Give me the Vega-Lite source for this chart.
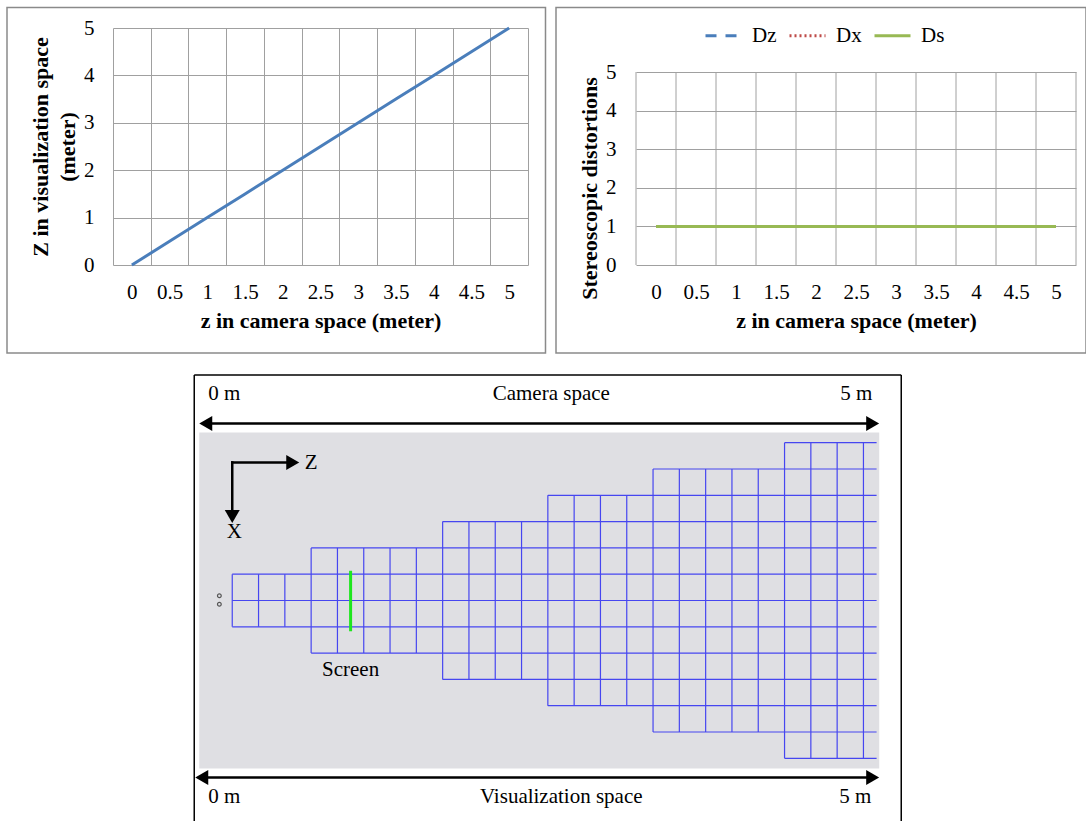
{
  "$schema": "https://vega.github.io/schema/vega-lite/v6.json",
  "background": "white",
  "padding": {"left": 6, "top": 6, "right": 0, "bottom": 0},
  "config": {
    "font": "Liberation Serif",
    "view": {"stroke": null},
    "axis": {
      "labelFont": "Liberation Serif", "labelFontSize": 21, "labelColor": "#000000",
      "titleFont": "Liberation Serif", "titleFontSize": 22, "titleFontWeight": "bold", "titleColor": "#000000",
      "ticks": false, "domain": false, "grid": true, "gridColor": "#a0a0a0", "gridWidth": 1,
      "labelOverlap": false, "labelFlush": false, "labelBound": false, "tickCount": 50
    },
    "legend": {"labelFont": "Liberation Serif", "labelFontSize": 21, "labelColor": "#000000"}
  },
  "datasets": {
    "camera_vs_vis": [
      {"z_camera": 0, "Z_vis": 0}, {"z_camera": 0.5, "Z_vis": 0.5}, {"z_camera": 1, "Z_vis": 1},
      {"z_camera": 1.5, "Z_vis": 1.5}, {"z_camera": 2, "Z_vis": 2}, {"z_camera": 2.5, "Z_vis": 2.5},
      {"z_camera": 3, "Z_vis": 3}, {"z_camera": 3.5, "Z_vis": 3.5}, {"z_camera": 4, "Z_vis": 4},
      {"z_camera": 4.5, "Z_vis": 4.5}, {"z_camera": 5, "Z_vis": 5}
    ],
    "distortions": [
      {"measure": "Dz", "z_camera": 0, "value": 1}, {"measure": "Dz", "z_camera": 0.5, "value": 1},
      {"measure": "Dz", "z_camera": 1, "value": 1}, {"measure": "Dz", "z_camera": 1.5, "value": 1},
      {"measure": "Dz", "z_camera": 2, "value": 1}, {"measure": "Dz", "z_camera": 2.5, "value": 1},
      {"measure": "Dz", "z_camera": 3, "value": 1}, {"measure": "Dz", "z_camera": 3.5, "value": 1},
      {"measure": "Dz", "z_camera": 4, "value": 1}, {"measure": "Dz", "z_camera": 4.5, "value": 1},
      {"measure": "Dz", "z_camera": 5, "value": 1},
      {"measure": "Dx", "z_camera": 0, "value": 1}, {"measure": "Dx", "z_camera": 0.5, "value": 1},
      {"measure": "Dx", "z_camera": 1, "value": 1}, {"measure": "Dx", "z_camera": 1.5, "value": 1},
      {"measure": "Dx", "z_camera": 2, "value": 1}, {"measure": "Dx", "z_camera": 2.5, "value": 1},
      {"measure": "Dx", "z_camera": 3, "value": 1}, {"measure": "Dx", "z_camera": 3.5, "value": 1},
      {"measure": "Dx", "z_camera": 4, "value": 1}, {"measure": "Dx", "z_camera": 4.5, "value": 1},
      {"measure": "Dx", "z_camera": 5, "value": 1},
      {"measure": "Ds", "z_camera": 0, "value": 1}, {"measure": "Ds", "z_camera": 0.5, "value": 1},
      {"measure": "Ds", "z_camera": 1, "value": 1}, {"measure": "Ds", "z_camera": 1.5, "value": 1},
      {"measure": "Ds", "z_camera": 2, "value": 1}, {"measure": "Ds", "z_camera": 2.5, "value": 1},
      {"measure": "Ds", "z_camera": 3, "value": 1}, {"measure": "Ds", "z_camera": 3.5, "value": 1},
      {"measure": "Ds", "z_camera": 4, "value": 1}, {"measure": "Ds", "z_camera": 4.5, "value": 1},
      {"measure": "Ds", "z_camera": 5, "value": 1}
    ],
    "region": [{"u0": -1.255, "u1": 24.6, "v0": -6.388, "v1": 6.388}],
    "grid_h": [
      {"row": -6, "from": 21, "to": 24.5}, {"row": -5, "from": 16, "to": 24.5},
      {"row": -4, "from": 12, "to": 24.5}, {"row": -3, "from": 8, "to": 24.5},
      {"row": -2, "from": 3, "to": 24.5}, {"row": -1, "from": 0, "to": 24.5},
      {"row": 0, "from": 0, "to": 24.5}, {"row": 1, "from": 0, "to": 24.5},
      {"row": 2, "from": 3, "to": 24.5}, {"row": 3, "from": 8, "to": 24.5},
      {"row": 4, "from": 12, "to": 24.5}, {"row": 5, "from": 16, "to": 24.5},
      {"row": 6, "from": 21, "to": 24.5}
    ],
    "grid_v": [
      {"col": 0, "lo": -1, "hi": 1}, {"col": 1, "lo": -1, "hi": 1}, {"col": 2, "lo": -1, "hi": 1},
      {"col": 3, "lo": -2, "hi": 2}, {"col": 4, "lo": -2, "hi": 2}, {"col": 5, "lo": -2, "hi": 2},
      {"col": 6, "lo": -2, "hi": 2}, {"col": 7, "lo": -2, "hi": 2},
      {"col": 8, "lo": -3, "hi": 3}, {"col": 9, "lo": -3, "hi": 3}, {"col": 10, "lo": -3, "hi": 3},
      {"col": 11, "lo": -3, "hi": 3},
      {"col": 12, "lo": -4, "hi": 4}, {"col": 13, "lo": -4, "hi": 4}, {"col": 14, "lo": -4, "hi": 4},
      {"col": 15, "lo": -4, "hi": 4},
      {"col": 16, "lo": -5, "hi": 5}, {"col": 17, "lo": -5, "hi": 5}, {"col": 18, "lo": -5, "hi": 5},
      {"col": 19, "lo": -5, "hi": 5}, {"col": 20, "lo": -5, "hi": 5},
      {"col": 21, "lo": -6, "hi": 6}, {"col": 22, "lo": -6, "hi": 6}, {"col": 23, "lo": -6, "hi": 6},
      {"col": 24, "lo": -6, "hi": 6}
    ],
    "screen": [{"u": 4.5, "v_lo": -1.17, "v_hi": 1.13}],
    "segments": [
      {"u1": -1.1, "v1": 6.73, "u2": 24.4, "v2": 6.73},
      {"u1": -1.25, "v1": -6.73, "u2": 24.4, "v2": -6.73},
      {"u1": 0, "v1": 5.25, "u2": 2.3, "v2": 5.25},
      {"u1": 0, "v1": 5.25, "u2": 0, "v2": 3.25}
    ],
    "heads": [
      {"u": -1.008, "v": 6.73, "dir": "left"}, {"u": 24.35, "v": 6.73, "dir": "right"},
      {"u": -1.16, "v": -6.73, "dir": "left"}, {"u": 24.35, "v": -6.73, "dir": "right"},
      {"u": 2.3, "v": 5.25, "dir": "right"}, {"u": 0, "v": 3.19, "dir": "down"}
    ],
    "eyes": [{"u": -0.49, "v": 0.18}, {"u": -0.49, "v": -0.14}],
    "annotations": [
      {"label": "0 m", "u": -0.3, "v": 7.86},
      {"label": "Camera space", "u": 12.13, "v": 7.86},
      {"label": "5 m", "u": 23.73, "v": 7.86},
      {"label": "0 m", "u": -0.3, "v": -7.49},
      {"label": "Visualization space", "u": 12.51, "v": -7.49},
      {"label": "5 m", "u": 23.69, "v": -7.49},
      {"label": "Screen", "u": 4.5, "v": -2.66},
      {"label": "Z", "u": 3.0, "v": 5.23},
      {"label": "X", "u": 0.08, "v": 2.62}
    ]
  },
  "spacing": 20,
  "resolve": {
    "scale": {"color": "independent", "strokeDash": "independent", "shape": "independent"},
    "legend": {"color": "independent", "strokeDash": "independent", "shape": "independent"}
  },
  "vconcat": [
    {
      "columns": 2,
      "align": "none",
      "spacing": 8,
      "resolve": {
        "scale": {"color": "independent", "strokeDash": "independent"},
        "legend": {"color": "independent", "strokeDash": "independent"}
      },
      "concat": [
        {
          "width": 415,
          "height": 237,
          "layer": [
            {
              "data": {"name": "camera_vs_vis"},
              "mark": {"type": "line", "color": "#4a7ebb", "strokeWidth": 3},
              "encoding": {
                "x": {
                  "field": "z_camera", "type": "quantitative",
                  "scale": {"domain": [-0.25, 5.25], "nice": false, "zero": false},
                  "axis": {
                    "values": [-0.25, 0.25, 0.75, 1.25, 1.75, 2.25, 2.75, 3.25, 3.75, 4.25, 4.75, 5.25],
                    "tickCount": 50,
                    "labelExpr": "datum.value > 5 ? '' : '' + (datum.value + 0.25)",
                    "labelOffset": 18.86, "labelPadding": 16,
                    "title": "z in camera space (meter)", "titlePadding": 8
                  }
                },
                "y": {
                  "field": "Z_vis", "type": "quantitative",
                  "scale": {"domain": [0, 5], "nice": false, "zero": false},
                  "axis": {
                    "values": [0, 1, 2, 3, 4, 5], "tickCount": 50, "labelPadding": 19,
                    "labelExpr": "'' + datum.value",
                    "title": ["Z in visualization  space", "(meter)"],
                    "titlePadding": 4, "titleLineHeight": 27
                  }
                }
              }
            },
            {
              "data": {"values": [{}]},
              "mark": {"type": "rect", "fill": null, "stroke": "#8a8a8a", "strokeWidth": 1.5},
              "encoding": {
                "x": {"datum": -1.6548, "type": "quantitative", "scale": {"domain": [-0.25, 5.25], "nice": false, "zero": false}},
                "x2": {"datum": 5.4819},
                "y": {"datum": 5.4325, "type": "quantitative", "scale": {"domain": [0, 5], "nice": false, "zero": false}},
                "y2": {"datum": -1.8565}
              }
            }
          ]
        },
        {
          "width": 440,
          "height": 237,
          "layer": [
            {
              "data": {"name": "distortions"},
              "transform": [{"filter": "datum.measure === 'Ds'"}],
              "mark": {"type": "rule", "color": "#a0a0a0", "strokeWidth": 1, "xOffset": -20},
              "encoding": {
                "x": {"field": "z_camera", "type": "quantitative", "scale": {"domain": [-0.25, 5.25], "nice": false, "zero": false}},
                "y": {"datum": 0, "type": "quantitative", "scale": {"domain": [0, 5], "nice": false, "zero": false, "range": [237, 44]}},
                "y2": {"datum": 5}
              }
            },
            {
              "data": {"name": "distortions"},
              "transform": [{"filter": "datum.measure === 'Ds' && datum.z_camera === 5"}],
              "mark": {"type": "rule", "color": "#a0a0a0", "strokeWidth": 1, "xOffset": 20},
              "encoding": {
                "x": {"field": "z_camera", "type": "quantitative", "scale": {"domain": [-0.25, 5.25], "nice": false, "zero": false}},
                "y": {"datum": 0, "type": "quantitative", "scale": {"domain": [0, 5], "nice": false, "zero": false, "range": [237, 44]}},
                "y2": {"datum": 5}
              }
            },
            {
              "data": {"name": "distortions"},
              "mark": {"type": "line", "strokeWidth": 3},
              "encoding": {
                "x": {
                  "field": "z_camera", "type": "quantitative",
                  "scale": {"domain": [-0.25, 5.25], "nice": false, "zero": false},
                  "axis": {
                    "values": [-0.25, 0.25, 0.75, 1.25, 1.75, 2.25, 2.75, 3.25, 3.75, 4.25, 4.75, 5.25],
                    "tickCount": 50, "grid": false,
                    "labelExpr": "datum.value > 5 ? '' : '' + (datum.value + 0.25)",
                    "labelOffset": 20, "labelPadding": 16,
                    "title": "z in camera space (meter)", "titlePadding": 8
                  }
                },
                "y": {
                  "field": "value", "type": "quantitative",
                  "scale": {"domain": [0, 5], "nice": false, "zero": false, "range": [237, 44]},
                  "axis": {
                    "values": [0, 1, 2, 3, 4, 5], "tickCount": 50, "labelPadding": 20,
                    "labelExpr": "'' + datum.value",
                    "title": "Stereoscopic distortions", "titlePadding": 4, "titleY": 160
                  }
                },
                "color": {
                  "field": "measure", "type": "nominal",
                  "scale": {"domain": ["Dz", "Dx", "Ds"], "range": ["#4a7ebb", "#be4b48", "#98b954"]},
                  "legend": {"orient": "none", "legendX": 68, "legendY": -12, "direction": "horizontal", "title": null,
                    "symbolType": "stroke", "symbolSize": 1296, "symbolStrokeWidth": 3, "labelOffset": 9,
                    "columnPadding": 6, "padding": 0}
                },
                "strokeDash": {
                  "field": "measure", "type": "nominal",
                  "scale": {"domain": ["Dz", "Dx", "Ds"], "range": [[11, 9], [2, 3], [1, 0]]},
                  "legend": {"orient": "none", "legendX": 68, "legendY": -12, "direction": "horizontal", "title": null,
                    "symbolType": "stroke", "symbolSize": 1296, "symbolStrokeWidth": 3, "labelOffset": 9,
                    "columnPadding": 6, "padding": 0}
                }
              }
            },
            {
              "data": {"values": [{}]},
              "mark": {"type": "rect", "fill": null, "stroke": "#8a8a8a", "strokeWidth": 1.5},
              "encoding": {
                "x": {"datum": -1.25, "type": "quantitative", "scale": {"domain": [-0.25, 5.25], "nice": false, "zero": false}},
                "x2": {"datum": 5.375},
                "y": {"datum": 6.671, "type": "quantitative", "scale": {"domain": [0, 5], "nice": false, "zero": false, "range": [237, 44]}},
                "y2": {"datum": -2.28}
              }
            }
          ]
        }
      ]
    },
    {
      "width": 800,
      "height": 447,
      "layer": [
        {
          "data": {"name": "region"},
          "mark": {"type": "rect", "color": "#dfdfe3"},
          "encoding": {
            "x": {"field": "u0", "type": "quantitative", "scale": {"domain": [-4.534, 25.884], "nice": false, "zero": false}, "axis": null},
            "x2": {"field": "u1"},
            "y": {"field": "v0", "type": "quantitative", "scale": {"domain": [-8.422, 8.574], "nice": false, "zero": false}, "axis": null},
            "y2": {"field": "v1"}
          }
        },
        {
          "data": {"name": "grid_h"},
          "mark": {"type": "rule", "color": "#4646f0", "strokeWidth": 1.2},
          "encoding": {
            "x": {"field": "from", "type": "quantitative", "scale": {"domain": [-4.534, 25.884], "nice": false, "zero": false}, "axis": null},
            "x2": {"field": "to"},
            "y": {"field": "row", "type": "quantitative", "scale": {"domain": [-8.422, 8.574], "nice": false, "zero": false}, "axis": null}
          }
        },
        {
          "data": {"name": "grid_v"},
          "mark": {"type": "rule", "color": "#4646f0", "strokeWidth": 1.2},
          "encoding": {
            "x": {"field": "col", "type": "quantitative", "scale": {"domain": [-4.534, 25.884], "nice": false, "zero": false}, "axis": null},
            "y": {"field": "lo", "type": "quantitative", "scale": {"domain": [-8.422, 8.574], "nice": false, "zero": false}, "axis": null},
            "y2": {"field": "hi"}
          }
        },
        {
          "data": {"name": "screen"},
          "mark": {"type": "rule", "color": "#1ee61e", "strokeWidth": 3},
          "encoding": {
            "x": {"field": "u", "type": "quantitative", "scale": {"domain": [-4.534, 25.884], "nice": false, "zero": false}, "axis": null},
            "y": {"field": "v_lo", "type": "quantitative", "scale": {"domain": [-8.422, 8.574], "nice": false, "zero": false}, "axis": null},
            "y2": {"field": "v_hi"}
          }
        },
        {
          "data": {"name": "segments"},
          "mark": {"type": "rule", "color": "#000000", "strokeWidth": 2.5, "strokeCap": "square"},
          "encoding": {
            "x": {"field": "u1", "type": "quantitative", "scale": {"domain": [-4.534, 25.884], "nice": false, "zero": false}, "axis": null},
            "x2": {"field": "u2"},
            "y": {"field": "v1", "type": "quantitative", "scale": {"domain": [-8.422, 8.574], "nice": false, "zero": false}, "axis": null},
            "y2": {"field": "v2"}
          }
        },
        {
          "data": {"name": "heads"},
          "mark": {"type": "point", "filled": true, "color": "#000000", "opacity": 1, "size": 225},
          "encoding": {
            "x": {"field": "u", "type": "quantitative", "scale": {"domain": [-4.534, 25.884], "nice": false, "zero": false}, "axis": null},
            "y": {"field": "v", "type": "quantitative", "scale": {"domain": [-8.422, 8.574], "nice": false, "zero": false}, "axis": null},
            "shape": {"field": "dir", "type": "nominal", "scale": {"domain": ["left", "right", "down"], "range": ["triangle-left", "triangle-right", "triangle-down"]}, "legend": null}
          }
        },
        {
          "data": {"name": "eyes"},
          "mark": {"type": "point", "shape": "circle", "filled": false, "color": "#555555", "strokeWidth": 1.2, "size": 14, "opacity": 1},
          "encoding": {
            "x": {"field": "u", "type": "quantitative", "scale": {"domain": [-4.534, 25.884], "nice": false, "zero": false}, "axis": null},
            "y": {"field": "v", "type": "quantitative", "scale": {"domain": [-8.422, 8.574], "nice": false, "zero": false}, "axis": null}
          }
        },
        {
          "data": {"name": "annotations"},
          "mark": {"type": "text", "font": "Liberation Serif", "fontSize": 21, "color": "#000000", "align": "center", "baseline": "middle"},
          "encoding": {
            "x": {"field": "u", "type": "quantitative", "scale": {"domain": [-4.534, 25.884], "nice": false, "zero": false}, "axis": null},
            "y": {"field": "v", "type": "quantitative", "scale": {"domain": [-8.422, 8.574], "nice": false, "zero": false}, "axis": null},
            "text": {"field": "label"}
          }
        },
        {
          "data": {"values": [{}]},
          "mark": {"type": "rule", "color": "#000000", "strokeWidth": 1.5},
          "encoding": {
            "x": {"datum": -1.445, "type": "quantitative", "scale": {"domain": [-4.534, 25.884], "nice": false, "zero": false}, "axis": null},
            "y": {"datum": -8.422, "type": "quantitative", "scale": {"domain": [-8.422, 8.574], "nice": false, "zero": false}, "axis": null},
            "y2": {"datum": 8.574}
          }
        },
        {
          "data": {"values": [{}]},
          "mark": {"type": "rule", "color": "#000000", "strokeWidth": 1.5},
          "encoding": {
            "x": {"datum": 25.437, "type": "quantitative", "scale": {"domain": [-4.534, 25.884], "nice": false, "zero": false}, "axis": null},
            "y": {"datum": -8.422, "type": "quantitative", "scale": {"domain": [-8.422, 8.574], "nice": false, "zero": false}, "axis": null},
            "y2": {"datum": 8.574}
          }
        },
        {
          "data": {"values": [{}]},
          "mark": {"type": "rule", "color": "#000000", "strokeWidth": 1.5},
          "encoding": {
            "x": {"datum": -1.445, "type": "quantitative", "scale": {"domain": [-4.534, 25.884], "nice": false, "zero": false}, "axis": null},
            "x2": {"datum": 25.437},
            "y": {"datum": 8.574, "type": "quantitative", "scale": {"domain": [-8.422, 8.574], "nice": false, "zero": false}, "axis": null}
          }
        }
      ]
    }
  ]
}
